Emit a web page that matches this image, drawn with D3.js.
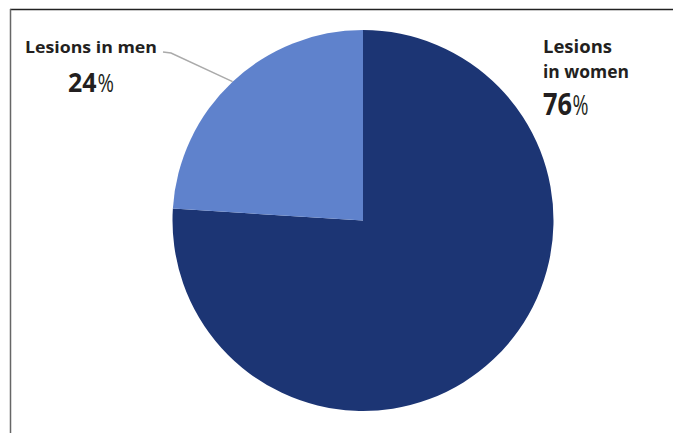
<!DOCTYPE html>
<html>
<head>
<meta charset="utf-8">
<script src="https://cdn.jsdelivr.net/npm/d3@7"></script>
<style>
  html, body { margin: 0; padding: 0; background: #fff; }
  svg { display: block; }
  text { font-family: "Open Sans", "Noto Sans", sans-serif; fill: #231f20; }
</style>
</head>
<body>
<svg id="chart" width="673" height="433"></svg>
<script>
const categories = ["Lesions in women", "Lesions in men"];
const values = [76, 24];
const colors = ["#1c3574", "#5f82cc"];
const pctLabels = ["76", "24"];

const svg = d3.select("#chart");
const cx = 363, cy = 220.5, R = 190.5;

// frame lines
svg.append("line").attr("x1", 10).attr("x2", 673).attr("y1", 9.5).attr("y2", 9.5)
  .attr("stroke", "#222").attr("stroke-width", 1.5);
svg.append("line").attr("x1", 10.5).attr("x2", 10.5).attr("y1", 9).attr("y2", 433)
  .attr("stroke", "#666").attr("stroke-width", 1.5);

const pie = d3.pie().sort(null).value(d => d)(values);
const arc = d3.arc().innerRadius(0).outerRadius(R);

const g = svg.append("g").attr("transform", `translate(${cx},${cy})`);
g.selectAll("path").data(pie).join("path")
  .attr("d", arc)
  .attr("fill", (d, i) => colors[i]);

// leader line for men slice
const men = pie[1];
const mid = (men.startAngle + men.endAngle) / 2;
const ex = cx + Math.sin(mid) * R, ey = cy - Math.cos(mid) * R;
svg.append("polyline")
  .attr("points", `${163},${52} ${171},${53} ${ex},${ey}`)
  .attr("fill", "none").attr("stroke", "#aaa").attr("stroke-width", 1.5);

function fit(sel, w) {
  return sel.attr("textLength", w).attr("lengthAdjust", "spacingAndGlyphs");
}
// horizontally scaled text fitted to width w starting at x
function scaled(x, y, size, weight, str, w) {
  const t = svg.append("text").attr("font-size", size).attr("font-weight", weight).text(str);
  const nat = t.node().getComputedTextLength();
  const s = w / nat;
  t.attr("transform", `translate(${x},${y}) scale(${s},1)`);
  return t;
}

// men label
fit(svg.append("text").attr("x", 25).attr("y", 53)
  .attr("font-size", 16.5).attr("font-weight", 700), 132)
  .text(categories[1]);
scaled(68, 92, 27, 700, pctLabels[1], 28.5);
scaled(97.5, 92, 25, 400, "%", 16.5);

// women label
fit(svg.append("text").attr("x", 543).attr("y", 53)
  .attr("font-size", 17.5).attr("font-weight", 700), 69)
  .text("Lesions");
fit(svg.append("text").attr("x", 543).attr("y", 78)
  .attr("font-size", 17.5).attr("font-weight", 700), 86)
  .text("in women");
scaled(543, 115, 30, 700, pctLabels[0], 29);
scaled(572.5, 115, 27, 400, "%", 16);
</script>
</body>
</html>
